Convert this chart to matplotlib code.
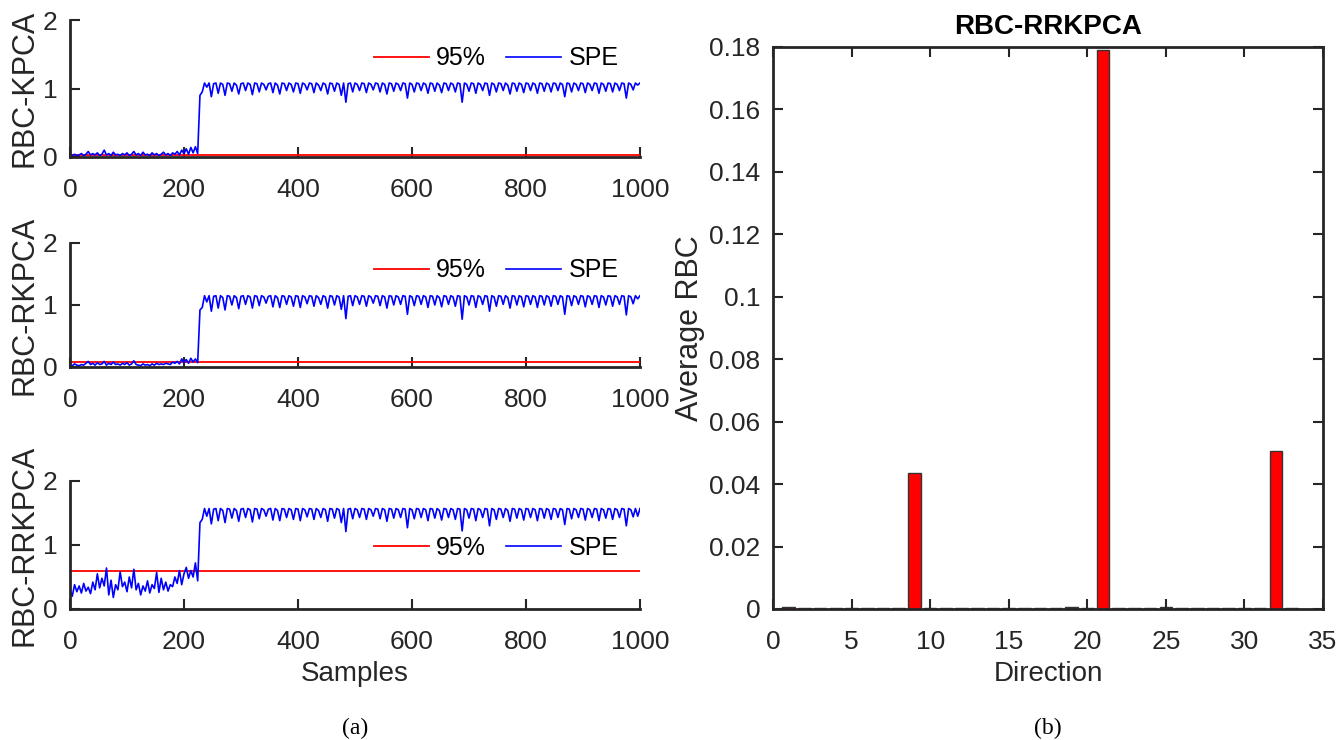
import numpy as np
import matplotlib
matplotlib.use("Agg")
import matplotlib.pyplot as plt

plt.rcParams["font.family"] = ["Liberation Sans", "DejaVu Sans"]

# sample index (one value every 4 samples)
samples = np.arange(0, 1001, 4)

# SPE statistics, samples 0..224 (normal) then 228..1000 (fault)
spe_kpca_pre = [
    0.03, 0.02, 0.04, 0.02, 0.03, 0.05, 0.02, 0.04, 0.08, 0.03,
    0.05, 0.03, 0.06, 0.02, 0.04, 0.10, 0.03, 0.05, 0.02, 0.07,
    0.03, 0.04, 0.02, 0.05, 0.03, 0.06, 0.02, 0.04, 0.08, 0.03,
    0.05, 0.02, 0.07, 0.03, 0.04, 0.02, 0.06, 0.03, 0.05, 0.02,
    0.04, 0.07, 0.03, 0.05, 0.02, 0.06, 0.04, 0.08, 0.03, 0.10,
    0.05, 0.12, 0.04, 0.14, 0.06, 0.15, 0.05]
spe_kpca_post = [
    0.90, 0.95, 1.08, 1.02, 1.08, 0.88, 1.07, 1.08, 0.93, 1.08, 1.06, 0.90,
    1.08, 1.07, 0.96, 1.08, 1.05, 0.92, 1.07, 1.08, 0.97, 1.08, 1.06, 0.91,
    1.08, 1.07, 0.95, 1.08, 1.06, 0.98, 1.07, 1.08, 0.94, 1.08, 1.05, 0.92,
    1.08, 1.07, 0.97, 1.08, 1.06, 0.95, 1.08, 1.07, 0.93, 1.08, 1.06, 0.98,
    1.08, 1.07, 0.94, 1.08, 1.05, 0.97, 1.08, 1.06, 0.92, 1.08, 1.07, 0.96,
    1.08, 1.06, 0.90, 1.08, 0.80, 1.07, 1.08, 0.95, 1.08, 1.06, 0.97, 1.08,
    1.07, 0.94, 1.08, 1.06, 0.98, 1.08, 1.07, 0.95, 1.08, 1.06, 0.92, 1.08,
    1.07, 0.96, 1.08, 1.06, 0.97, 1.08, 1.07, 0.86, 1.08, 1.06, 0.95, 1.08,
    1.07, 0.97, 1.08, 1.06, 0.93, 1.08, 1.07, 0.96, 1.08, 1.05, 0.94, 1.08,
    1.07, 0.97, 1.08, 1.06, 0.95, 1.08, 1.07, 0.80, 1.08, 1.06, 0.96, 1.08,
    1.07, 0.93, 1.08, 1.06, 0.97, 1.08, 1.07, 0.90, 1.08, 1.06, 0.95, 1.08,
    1.07, 0.97, 1.08, 1.05, 0.92, 1.08, 1.07, 0.96, 1.08, 1.06, 0.94, 1.08,
    1.07, 0.97, 1.08, 1.06, 0.93, 1.08, 1.07, 0.96, 1.08, 1.06, 0.95, 1.08,
    1.07, 0.97, 1.08, 1.06, 0.88, 1.08, 1.07, 0.95, 1.08, 1.06, 0.97, 1.08,
    1.07, 0.94, 1.08, 1.06, 0.97, 1.08, 1.07, 0.93, 1.08, 1.06, 0.96, 1.08,
    1.07, 0.95, 1.08, 1.06, 0.97, 1.08, 1.07, 0.86, 1.08, 1.06, 0.98, 1.08,
    1.05, 1.08]

spe_rkpca_pre = [
    0.04, 0.02, 0.05, 0.03, 0.02, 0.04, 0.03, 0.06, 0.09, 0.04,
    0.06, 0.03, 0.07, 0.04, 0.05, 0.09, 0.03, 0.06, 0.04, 0.08,
    0.04, 0.05, 0.03, 0.06, 0.04, 0.07, 0.03, 0.05, 0.10, 0.04,
    0.03, 0.02, 0.05, 0.03, 0.04, 0.02, 0.05, 0.03, 0.06, 0.04,
    0.05, 0.04, 0.06, 0.05, 0.04, 0.08, 0.06, 0.09, 0.05, 0.13,
    0.07, 0.12, 0.06, 0.14, 0.08, 0.13, 0.07]
spe_rkpca_post = [
    0.92, 0.96, 1.15, 1.05, 1.15, 0.90, 1.14, 1.15, 0.95, 1.15, 1.12, 0.92,
    1.15, 1.14, 1.00, 1.15, 1.12, 0.94, 1.14, 1.15, 1.01, 1.15, 1.13, 0.95,
    1.15, 1.14, 0.99, 1.15, 1.13, 1.03, 1.14, 1.15, 0.97, 1.15, 1.12, 0.96,
    1.15, 1.14, 1.01, 1.15, 1.13, 0.98, 1.15, 1.14, 0.96, 1.15, 1.13, 1.02,
    1.15, 1.14, 0.98, 1.15, 1.12, 1.01, 1.15, 1.13, 0.95, 1.15, 1.14, 1.00,
    1.15, 1.13, 0.93, 1.15, 0.78, 1.14, 1.15, 0.99, 1.15, 1.13, 1.01, 1.15,
    1.14, 0.98, 1.15, 1.13, 1.03, 1.15, 1.14, 0.99, 1.15, 1.13, 0.95, 1.15,
    1.14, 1.00, 1.15, 1.13, 1.01, 1.15, 1.14, 0.85, 1.15, 1.13, 0.99, 1.15,
    1.14, 1.01, 1.15, 1.13, 0.96, 1.15, 1.14, 1.00, 1.15, 1.12, 0.97, 1.15,
    1.14, 1.01, 1.15, 1.13, 0.98, 1.15, 1.14, 0.77, 1.15, 1.13, 1.00, 1.15,
    1.14, 0.96, 1.15, 1.13, 1.01, 1.15, 1.14, 0.90, 1.15, 1.13, 0.98, 1.15,
    1.14, 1.01, 1.15, 1.12, 0.95, 1.15, 1.14, 1.00, 1.15, 1.13, 0.97, 1.15,
    1.14, 1.01, 1.15, 1.13, 0.96, 1.15, 1.14, 1.00, 1.15, 1.13, 0.98, 1.15,
    1.14, 1.01, 1.15, 1.13, 0.85, 1.15, 1.14, 0.99, 1.15, 1.13, 1.01, 1.15,
    1.14, 0.97, 1.15, 1.13, 1.01, 1.15, 1.14, 0.96, 1.15, 1.13, 1.00, 1.15,
    1.14, 0.98, 1.15, 1.13, 1.01, 1.15, 1.14, 0.84, 1.15, 1.13, 1.02, 1.15,
    1.10, 1.15]

spe_rrkpca_pre = [
    0.30, 0.20, 0.38, 0.27, 0.36, 0.25, 0.40, 0.28, 0.34, 0.24,
    0.42, 0.30, 0.55, 0.33, 0.48, 0.36, 0.64, 0.22, 0.45, 0.18,
    0.38, 0.30, 0.58, 0.35, 0.42, 0.27, 0.50, 0.33, 0.62, 0.30,
    0.40, 0.22, 0.36, 0.28, 0.44, 0.25, 0.38, 0.32, 0.57, 0.26,
    0.48, 0.30, 0.42, 0.28, 0.38, 0.35, 0.50, 0.40, 0.60, 0.38,
    0.55, 0.65, 0.48, 0.60, 0.50, 0.72, 0.44]
spe_rrkpca_post = [
    1.35, 1.40, 1.57, 1.45, 1.57, 1.33, 1.56, 1.57, 1.38, 1.57, 1.54, 1.35,
    1.57, 1.56, 1.42, 1.57, 1.54, 1.37, 1.56, 1.57, 1.43, 1.57, 1.55, 1.36,
    1.57, 1.56, 1.41, 1.57, 1.55, 1.45, 1.56, 1.57, 1.39, 1.57, 1.54, 1.38,
    1.57, 1.56, 1.43, 1.57, 1.55, 1.40, 1.57, 1.56, 1.38, 1.57, 1.55, 1.44,
    1.57, 1.56, 1.40, 1.57, 1.54, 1.43, 1.57, 1.55, 1.37, 1.57, 1.56, 1.42,
    1.57, 1.55, 1.35, 1.57, 1.21, 1.56, 1.57, 1.41, 1.57, 1.55, 1.43, 1.57,
    1.56, 1.40, 1.57, 1.55, 1.45, 1.57, 1.56, 1.41, 1.57, 1.55, 1.37, 1.57,
    1.56, 1.42, 1.57, 1.55, 1.43, 1.57, 1.56, 1.27, 1.57, 1.55, 1.41, 1.57,
    1.56, 1.43, 1.57, 1.55, 1.38, 1.57, 1.56, 1.42, 1.57, 1.54, 1.39, 1.57,
    1.56, 1.43, 1.57, 1.55, 1.40, 1.57, 1.56, 1.22, 1.57, 1.55, 1.42, 1.57,
    1.56, 1.38, 1.57, 1.55, 1.43, 1.57, 1.56, 1.30, 1.57, 1.55, 1.40, 1.57,
    1.56, 1.43, 1.57, 1.54, 1.37, 1.57, 1.56, 1.42, 1.57, 1.55, 1.39, 1.57,
    1.56, 1.43, 1.57, 1.55, 1.38, 1.57, 1.56, 1.42, 1.57, 1.55, 1.40, 1.57,
    1.56, 1.43, 1.57, 1.55, 1.32, 1.57, 1.56, 1.41, 1.57, 1.55, 1.43, 1.57,
    1.56, 1.39, 1.57, 1.55, 1.43, 1.57, 1.56, 1.38, 1.57, 1.55, 1.42, 1.57,
    1.56, 1.40, 1.57, 1.55, 1.43, 1.57, 1.56, 1.30, 1.57, 1.55, 1.44, 1.57,
    1.45, 1.57]

# 95% control limits
limit_kpca = 0.03
limit_rkpca = 0.08
limit_rrkpca = 0.60

method_names = ["RBC-KPCA", "RBC-RKPCA", "RBC-RRKPCA"]

# average RBC per direction (panel b)
directions = list(range(1, 34))
avg_rbc = [0.0005, 0.0002, 0.0002, 0.0002, 0.0004, 0.0002, 0.0002, 0.0002,
           0.0435, 0.0003, 0.0002, 0.0002, 0.0002, 0.0002, 0.0002, 0.0002,
           0.0002, 0.0004, 0.0005, 0.0003, 0.179, 0.0002, 0.0002, 0.0002,
           0.0005, 0.0002, 0.0002, 0.0002, 0.0002, 0.0002, 0.0004, 0.0505,
           0.0002]

series = [
    (spe_kpca_pre + spe_kpca_post, limit_kpca),
    (spe_rkpca_pre + spe_rkpca_post, limit_rkpca),
    (spe_rrkpca_pre + spe_rrkpca_post, limit_rrkpca),
]

W, H = 1338, 740
fig = plt.figure(figsize=(W / 100, H / 100), dpi=100)

def px_axes(x0, y_top, x1, y_bot):
    return fig.add_axes([x0 / W, 1 - y_bot / H, (x1 - x0) / W, (y_bot - y_top) / H])

dark = "#262626"
left_boxes = [(20, 157), (243, 367), (481, 609)]
legend_y = [0.72, 0.78, 0.48]

for i, ((vals, lim), (yt, yb)) in enumerate(zip(series, left_boxes)):
    ax = px_axes(70, yt, 640, yb)
    ax.plot([0, 1000], [lim, lim], color="red", lw=1.3, label="95%")
    ax.plot(samples, vals, color="blue", lw=1.2, label="SPE")
    ax.set_xlim(0, 1000)
    ax.set_ylim(0, 2)
    ax.set_xticks([0, 200, 400, 600, 800, 1000])
    ax.set_yticks([0, 1, 2])
    for s in ["top", "right"]:
        ax.spines[s].set_visible(False)
    for s in ["left", "bottom"]:
        ax.spines[s].set_linewidth(2)
        ax.spines[s].set_color(dark)
    ax.tick_params(direction="in", length=7, width=1.5, labelsize=19,
                   colors=dark)
    ax.tick_params(axis="x", pad=15)
    ax.tick_params(axis="y", pad=9)
    ax.set_ylabel(method_names[i], fontsize=22, color=dark, labelpad=2)
    ax.legend(loc="center right", bbox_to_anchor=(0.98, legend_y[i]), ncol=2,
              frameon=False, fontsize=18, handlelength=2.2,
              handletextpad=0.3, columnspacing=0.8, borderaxespad=0)
    if i == 2:
        ax.set_xlabel("Samples", fontsize=20, color=dark, labelpad=5)

axb = px_axes(773, 47, 1323, 609)
axb.bar(directions, avg_rbc, width=0.8, color="red", edgecolor="#333333",
        linewidth=1)
axb.set_xlim(0, 35)
axb.set_ylim(0, 0.18)
axb.set_xticks([0, 5, 10, 15, 20, 25, 30, 35])
axb.set_yticks([0, 0.02, 0.04, 0.06, 0.08, 0.1, 0.12, 0.14, 0.16, 0.18])
axb.set_yticklabels(["0", "0.02", "0.04", "0.06", "0.08", "0.1", "0.12",
                     "0.14", "0.16", "0.18"])
for s in axb.spines.values():
    s.set_linewidth(2)
    s.set_color(dark)
axb.tick_params(direction="in", length=7, width=1.5, labelsize=19,
                colors=dark, top=True, right=True)
axb.tick_params(axis="x", pad=15)
axb.tick_params(axis="y", pad=9)
axb.set_xlabel("Direction", fontsize=20, color=dark, labelpad=5)
axb.set_ylabel("Average RBC", fontsize=22, color=dark, labelpad=3)
axb.set_title("RBC-RRKPCA", fontsize=20, fontweight="bold", pad=9)

fig.text(355 / W, 1 - 728 / H, "(a)", family="Liberation Serif", fontsize=17,
         ha="center", va="center")
fig.text(1048 / W, 1 - 728 / H, "(b)", family="Liberation Serif", fontsize=17,
         ha="center", va="center")

fig.savefig("out.png", dpi=100)
